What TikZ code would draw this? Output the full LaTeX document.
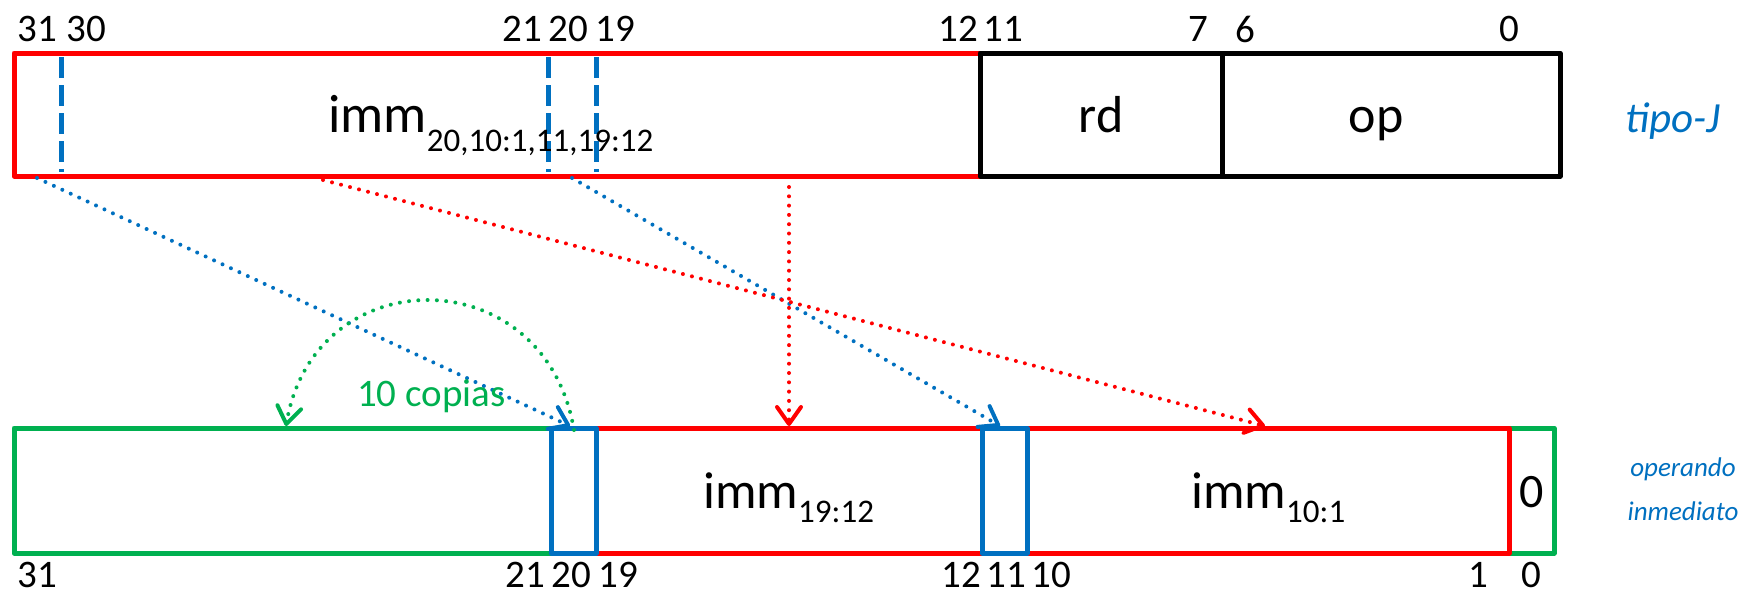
\documentclass[tikz,border=0pt]{standalone}
\usepackage{fontspec}
\setmainfont{Carlito}
\usetikzlibrary{arrows.meta}
\definecolor{ored}{HTML}{FF0000}
\definecolor{oblue}{HTML}{0070C0}
\definecolor{ogreen}{HTML}{00B050}
\newcommand{\mysub}[2][-14pt]{\raisebox{#1}{\fontsize{33}{33}\selectfont #2}}
\begin{document}
\begin{tikzpicture}[x=1pt,y=-1pt,
  field/.style={draw, line width=5pt, line join=round, inner sep=0pt, outer sep=0pt,
                anchor=north west, minimum height=#1},
  field/.default=123pt,
  bitn/.style={font=\fontsize{39}{47}\selectfont, inner sep=0pt},
  lbl/.style={font=\fontsize{52}{60}\selectfont, inner sep=0pt, anchor=base},
  dotline/.style={line width=4pt, line cap=round, dash pattern=on 0pt off 9.3pt},
  arr/.style={-{Straight Barb[length=17pt,width=24pt,line width=4pt,round]}},
  sepline/.style={draw=oblue, line width=5pt, dash pattern=on 21pt off 7pt}
]
\useasboundingbox (0,0) rectangle (1753,595);

% ---------- top instruction (tipo-J) ----------
\node[field, draw=ored, minimum width=966pt] (immT) at (14,53) {};
\draw[sepline] (61,57) -- (61,172);
\draw[sepline] (548,57) -- (548,172);
\draw[sepline] (596,57) -- (596,172);
\node[field, draw=black, minimum width=242pt] (rdT) at (980,53) {};
\node[field, draw=black, minimum width=338pt] (opT) at (1222,53) {};

\node[lbl, anchor=base west, font=\fontsize{54}{62}\selectfont] (immTl) at (328,132) {imm\mysub[-19pt]{20,10:1,11,19:12}};
\node[lbl] (rdl) at (1101,132) {rd};
\node[lbl] (opl) at (1376,132) {op};
\node[font=\fontsize{43}{51}\selectfont\itshape, text=oblue, anchor=base, inner sep=0pt] (tipo) at (1673,132) {tipo-J};

\node[bitn] (t31) at (37,29) {31};
\node[bitn] (t30) at (86,29) {30};
\node[bitn] (t21) at (522,29) {21};
\node[bitn] (t20) at (568,29) {20};
\node[bitn] (t19) at (615,29) {19};
\node[bitn] (t12) at (958,29) {12};
\node[bitn] (t11) at (1003,29) {11};
\node[bitn] (t7) at (1198,29) {7};
\node[bitn] (t6) at (1245,29) {6};
\node[bitn] (t0) at (1509,29) {0};

% ---------- bottom immediate operand ----------
\node[field=125pt, draw=ogreen, minimum width=537pt] (sgn) at (14,428) {};
\node[field=125pt, draw=ogreen, minimum width=45pt] (zero) at (1509,428) {};
\node[field=125pt, draw=ored, minimum width=386pt] (hi) at (596,428) {};
\node[field=125pt, draw=ored, minimum width=482pt] (lo) at (1027,428) {};
\node[field=125pt, draw=oblue, minimum width=45pt] (b20) at (551,428) {};
\node[field=125pt, draw=oblue, minimum width=45pt] (b11) at (982,428) {};

\node[lbl, anchor=base west] (hil) at (703,508) {imm\mysub{19:12}};
\node[lbl, anchor=base west] (lol) at (1191,508) {imm\mysub{10:1}};
\node[font=\fontsize{48}{56}\selectfont, inner sep=0pt] (zl) at (1532,492) {0};
\node[font=\fontsize{27}{44}\selectfont\itshape, text=oblue, align=center, inner sep=0pt] (opnd) at (1683,489) {operando\\inmediato};

\node[bitn] (b31n) at (37,575) {31};
\node[bitn] (b21n) at (525,575) {21};
\node[bitn] (b20n) at (571,575) {20};
\node[bitn] (b19n) at (618,575) {19};
\node[bitn] (b12n) at (961,575) {12};
\node[bitn] (b11n) at (1006,575) {11};
\node[bitn] (b10n) at (1051,575) {10};
\node[bitn] (b1n) at (1478,575) {1};
\node[bitn] (b0n) at (1531,575) {0};

% ---------- connectors ----------
\coordinate (s31) at (37,178);
\coordinate (s20) at (572,178);
\coordinate (s101) at (323,180);
\coordinate (s1912) at (789,187);
\coordinate (e20) at (570,426);
\coordinate (e11) at (1000,426);
\coordinate (e101) at (1265,426);
\coordinate (e1912) at (789,426);
\coordinate (gs) at (574,430);
\coordinate (ge) at (286,426);

\draw[dotline, oblue, arr] (s31) -- (e20);
\draw[dotline, oblue, arr] (s20) -- (e11);
\draw[dotline, ored, arr] (s101) -- (e101);
\draw[dotline, ored, arr] (s1912) -- (e1912);
\draw[dotline, ogreen, arr] (gs) .. controls (545,258) and (315,258) .. (ge);

\node[font=\fontsize{39}{47}\selectfont, text=ogreen, anchor=base west, inner sep=0pt] (copias) at (357,406) {10 copias};
\end{tikzpicture}
\end{document}
